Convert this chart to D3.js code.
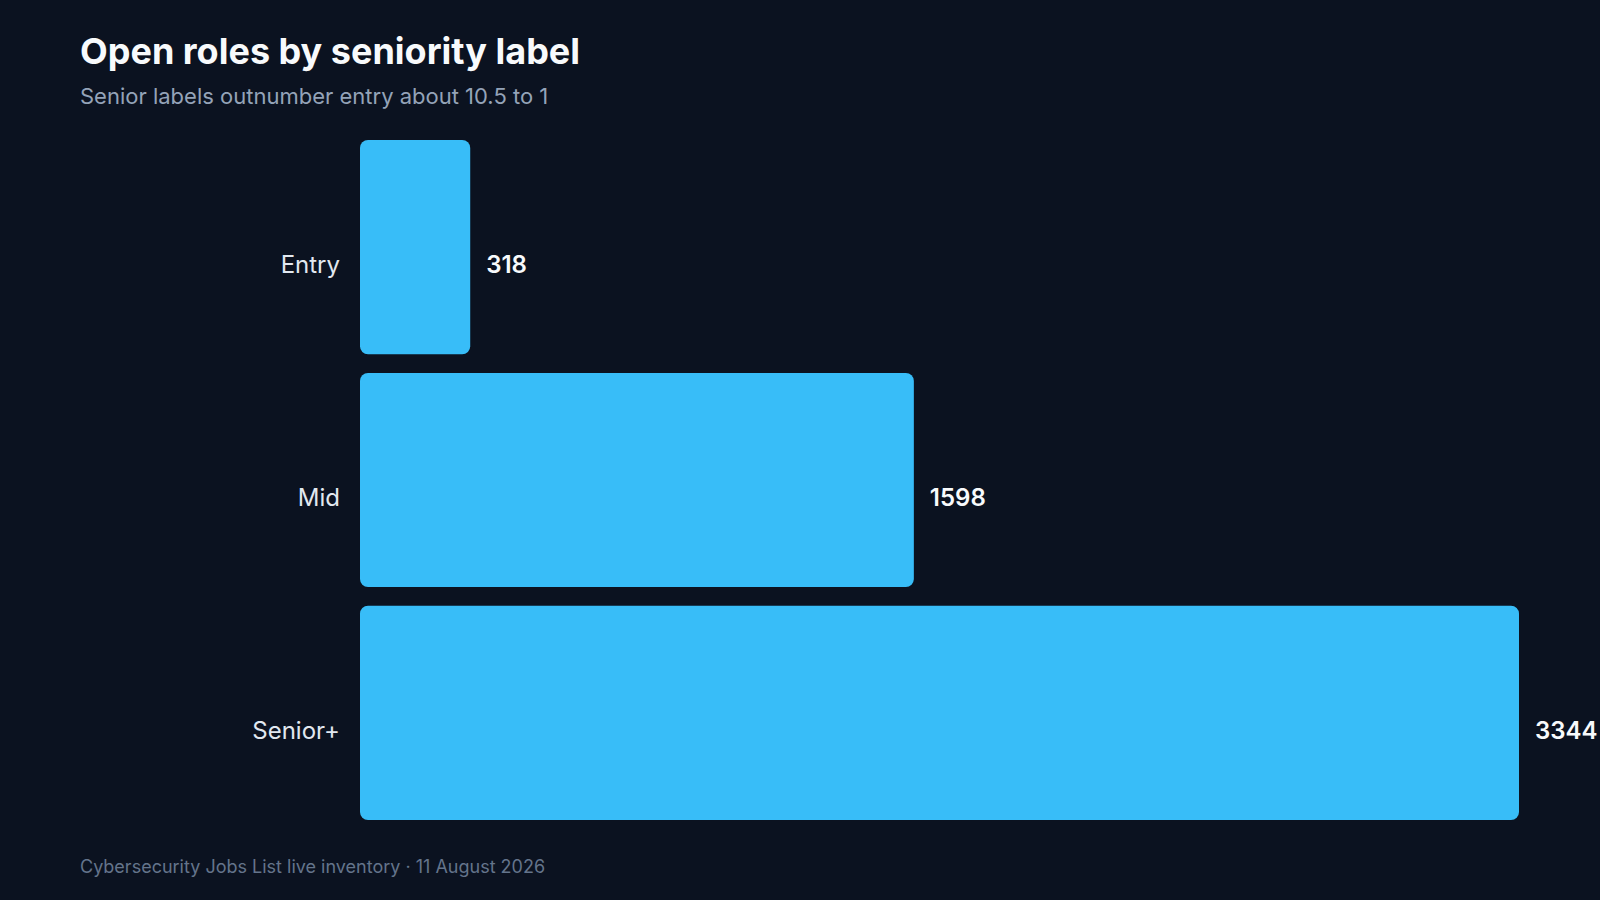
<!DOCTYPE html>
<html>
<head>
<meta charset="utf-8">
<script src="https://cdn.jsdelivr.net/npm/d3@7"></script>
<style>
  html, body { margin: 0; padding: 0; background: #0b1220; overflow: hidden; }
  svg { display: block; font-family: Inter, "Noto Sans", sans-serif; }
</style>
</head>
<body>
<script>
var width = 1600;
var height = 900;

var levels = ["Entry", "Mid", "Senior+"];
var counts = [318, 1598, 3344];

var title = "Open roles by seniority label";
var subtitle = "Senior labels outnumber entry about 10.5 to 1";
var source = "Cybersecurity Jobs List live inventory \u00b7 11 August 2026";

var rows = levels.map(function(l, i) { return { level: l, count: counts[i] }; });

var svg = d3.select("body")
    .append("svg")
    .attr("width", width)
    .attr("height", height);

svg.append("rect")
    .attr("width", width)
    .attr("height", height)
    .attr("fill", "#0b1220");

var x = d3.scaleLinear()
    .domain([0, d3.max(counts)])
    .range([360, 1519]);

var y = d3.scaleBand()
    .domain(levels)
    .range([140, 820])
    .paddingInner(0.08)
    .paddingOuter(0);

svg.append("text")
    .attr("x", 80)
    .attr("y", 64)
    .attr("fill", "#f8fafc")
    .attr("font-size", "36px")
    .attr("font-weight", 700)
    .text(title);

svg.append("text")
    .attr("x", 80)
    .attr("y", 104)
    .attr("fill", "#94a3b8")
    .attr("font-size", "22px")
    .text(subtitle);

svg.selectAll("rect.bar")
    .data(rows)
    .enter()
    .append("rect")
    .attr("class", "bar")
    .attr("x", x(0))
    .attr("y", function(d) { return y(d.level); })
    .attr("width", function(d) { return x(d.count) - x(0); })
    .attr("height", y.bandwidth())
    .attr("rx", 8)
    .attr("fill", "#38bdf8");

// labels sit a bit below the bar middle, like the original
var label_y = function(d) { return y(d.level) + y.bandwidth() / 2 + 26; };

svg.selectAll("text.cat")
    .data(rows)
    .enter()
    .append("text")
    .attr("class", "cat")
    .attr("x", x(0) - 20)
    .attr("y", label_y)
    .attr("text-anchor", "end")
    .attr("fill", "#e2e8f0")
    .attr("font-size", "24px")
    .text(function(d) { return d.level; });

svg.selectAll("text.val")
    .data(rows)
    .enter()
    .append("text")
    .attr("class", "val")
    .attr("x", function(d) { return x(d.count) + 16; })
    .attr("y", label_y)
    .attr("fill", "#f8fafc")
    .attr("font-size", "24px")
    .attr("font-weight", 600)
    .text(function(d) { return d.count; });

svg.append("text")
    .attr("x", 80)
    .attr("y", 873)
    .attr("fill", "#64748b")
    .attr("font-size", "18px")
    .text(source);
</script>
</body>
</html>
